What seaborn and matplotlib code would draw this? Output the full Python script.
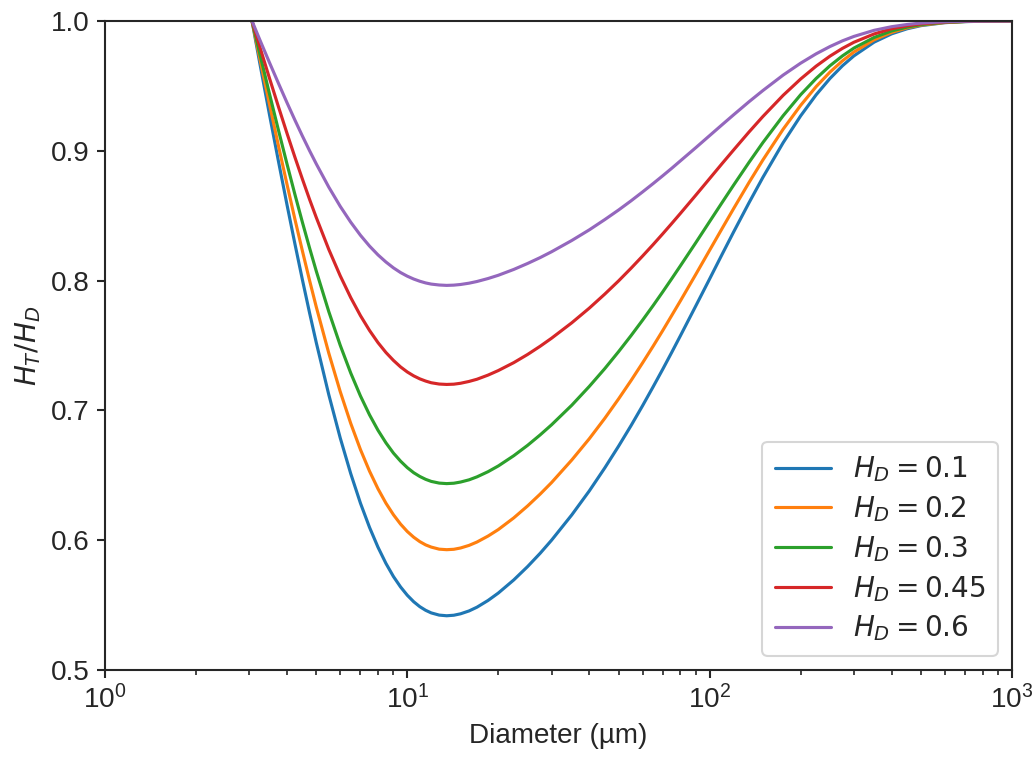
import numpy as np
import pandas as pd
import matplotlib
matplotlib.use("Agg")
import matplotlib.pyplot as plt
import seaborn as sns

# Vessel diameter (µm)
diameter = [3.065, 3.25, 3.5, 3.75, 4, 4.25, 4.5, 4.75, 5, 5.5,
            6, 6.5, 7, 7.5, 8, 8.5, 9, 9.5, 10, 10.5,
            11, 11.5, 12, 12.75, 13.5, 14.25, 15, 16, 17, 18.5,
            20, 22.5, 25, 27.5, 30, 35, 40, 45, 50, 55,
            60, 65, 70, 75, 80, 90, 100, 110, 120, 135,
            150, 175, 200, 225, 250, 275, 300, 350, 400, 450,
            500, 600, 700, 800, 1000]

# Tube-to-discharge haematocrit ratio H_T/H_D for each discharge haematocrit
hd_labels = ["$H_D = 0.1$", "$H_D = 0.2$", "$H_D = 0.3$", "$H_D = 0.45$", "$H_D = 0.6$"]
ratio_hd_01 = [1.0000, 0.9678, 0.9280, 0.8917, 0.8585, 0.8282, 0.8005, 0.7752, 0.7522, 0.7121,
               0.6788, 0.6513, 0.6285, 0.6099, 0.5946, 0.5821, 0.5720, 0.5640, 0.5576, 0.5526,
               0.5488, 0.5460, 0.5440, 0.5423, 0.5418, 0.5422, 0.5433, 0.5455, 0.5484, 0.5536,
               0.5593, 0.5694, 0.5797, 0.5899, 0.6000, 0.6195, 0.6380, 0.6557, 0.6725, 0.6884,
               0.7036, 0.7181, 0.7318, 0.7449, 0.7574, 0.7805, 0.8013, 0.8203, 0.8374, 0.8600,
               0.8795, 0.9062, 0.9269, 0.9431, 0.9557, 0.9655, 0.9731, 0.9837, 0.9901, 0.9940,
               0.9964, 0.9987, 0.9995, 0.9998, 1.0000]
ratio_hd_02 = [1.0000, 0.9714, 0.9360, 0.9037, 0.8742, 0.8472, 0.8227, 0.8002, 0.7797, 0.7441,
               0.7145, 0.6900, 0.6698, 0.6532, 0.6396, 0.6285, 0.6196, 0.6124, 0.6067, 0.6023,
               0.5989, 0.5964, 0.5947, 0.5931, 0.5927, 0.5930, 0.5940, 0.5960, 0.5986, 0.6032,
               0.6082, 0.6172, 0.6264, 0.6355, 0.6444, 0.6618, 0.6782, 0.6939, 0.7089, 0.7231,
               0.7366, 0.7494, 0.7616, 0.7733, 0.7843, 0.8048, 0.8234, 0.8402, 0.8554, 0.8756,
               0.8929, 0.9166, 0.9350, 0.9494, 0.9606, 0.9693, 0.9761, 0.9855, 0.9912, 0.9947,
               0.9968, 0.9988, 0.9996, 0.9998, 1.0000]
ratio_hd_03 = [1.0000, 0.9750, 0.9440, 0.9157, 0.8899, 0.8663, 0.8448, 0.8252, 0.8073, 0.7761,
               0.7502, 0.7288, 0.7111, 0.6966, 0.6847, 0.6750, 0.6671, 0.6609, 0.6559, 0.6520,
               0.6491, 0.6469, 0.6453, 0.6440, 0.6436, 0.6439, 0.6448, 0.6465, 0.6488, 0.6528,
               0.6572, 0.6651, 0.6731, 0.6811, 0.6889, 0.7040, 0.7185, 0.7322, 0.7453, 0.7577,
               0.7695, 0.7807, 0.7914, 0.8016, 0.8113, 0.8292, 0.8455, 0.8602, 0.8735, 0.8911,
               0.9063, 0.9270, 0.9432, 0.9557, 0.9655, 0.9731, 0.9791, 0.9873, 0.9923, 0.9953,
               0.9972, 0.9990, 0.9996, 0.9999, 1.0000]
ratio_hd_045 = [1.0000, 0.9803, 0.9560, 0.9338, 0.9135, 0.8950, 0.8781, 0.8626, 0.8486, 0.8240,
                0.8037, 0.7869, 0.7730, 0.7616, 0.7522, 0.7446, 0.7385, 0.7335, 0.7296, 0.7266,
                0.7243, 0.7226, 0.7213, 0.7203, 0.7200, 0.7202, 0.7209, 0.7223, 0.7240, 0.7272,
                0.7307, 0.7368, 0.7431, 0.7494, 0.7556, 0.7675, 0.7788, 0.7896, 0.7998, 0.8096,
                0.8189, 0.8277, 0.8361, 0.8441, 0.8517, 0.8658, 0.8786, 0.8902, 0.9006, 0.9145,
                0.9264, 0.9427, 0.9553, 0.9652, 0.9729, 0.9789, 0.9836, 0.9900, 0.9940, 0.9963,
                0.9978, 0.9992, 0.9997, 0.9999, 1.0000]
ratio_hd_06 = [1.0000, 0.9857, 0.9680, 0.9519, 0.9371, 0.9236, 0.9113, 0.9001, 0.8899, 0.8720,
               0.8572, 0.8450, 0.8349, 0.8266, 0.8198, 0.8143, 0.8098, 0.8062, 0.8034, 0.8012,
               0.7995, 0.7982, 0.7973, 0.7966, 0.7963, 0.7965, 0.7970, 0.7980, 0.7993, 0.8016,
               0.8041, 0.8086, 0.8132, 0.8177, 0.8222, 0.8309, 0.8391, 0.8470, 0.8544, 0.8615,
               0.8683, 0.8747, 0.8808, 0.8866, 0.8922, 0.9024, 0.9117, 0.9201, 0.9277, 0.9378,
               0.9464, 0.9583, 0.9675, 0.9747, 0.9803, 0.9847, 0.9881, 0.9928, 0.9956, 0.9973,
               0.9984, 0.9994, 0.9998, 0.9999, 1.0000]

series = [ratio_hd_01, ratio_hd_02, ratio_hd_03, ratio_hd_045, ratio_hd_06]
df = pd.concat(
    [pd.DataFrame({"diameter": diameter, "ratio": vals, "hd": lab})
     for lab, vals in zip(hd_labels, series)],
    ignore_index=True,
)

FS = 13.4

sns.set_theme(style="ticks", rc={
    "axes.edgecolor": ".15",
    "xtick.color": ".15",
    "ytick.color": ".15",
    "xtick.major.size": 3.8,
    "ytick.major.size": 3.8,
    "xtick.minor.size": 2.2,
    "ytick.minor.size": 2.2,
    "xtick.major.width": 1.0,
    "ytick.major.width": 1.0,
    "xtick.minor.width": 0.8,
    "axes.linewidth": 1.0,
})
plt.rcParams["font.family"] = ["Liberation Sans", "DejaVu Sans"]
plt.rcParams["mathtext.fontset"] = "dejavusans"

fig, ax = plt.subplots(figsize=(1034 / 150, 760 / 150), dpi=150)
fig.subplots_adjust(left=0.1015, right=0.9787, top=0.9724, bottom=0.1184)

sns.lineplot(data=df, x="diameter", y="ratio", hue="hd", palette="tab10",
             linewidth=1.5, ax=ax, sort=False)

ax.set_xscale("log")
ax.set_xlim(1, 1000)
ax.set_ylim(0.5, 1.0)
ax.set_yticks([0.5, 0.6, 0.7, 0.8, 0.9, 1.0])
ax.tick_params(axis="both", which="major", labelsize=FS)
ax.set_xlabel("Diameter (µm)", fontsize=FS)
ax.set_ylabel("$H_T/H_D$", fontsize=FS)

for side in ["top", "right"]:
    ax.spines[side].set_visible(True)

leg = ax.legend(loc="lower right", fontsize=FS, title=None, frameon=True,
                labelspacing=0.36, borderpad=0.45)
leg.get_frame().set_edgecolor("0.8")

fig.savefig("out.png", dpi=150)
